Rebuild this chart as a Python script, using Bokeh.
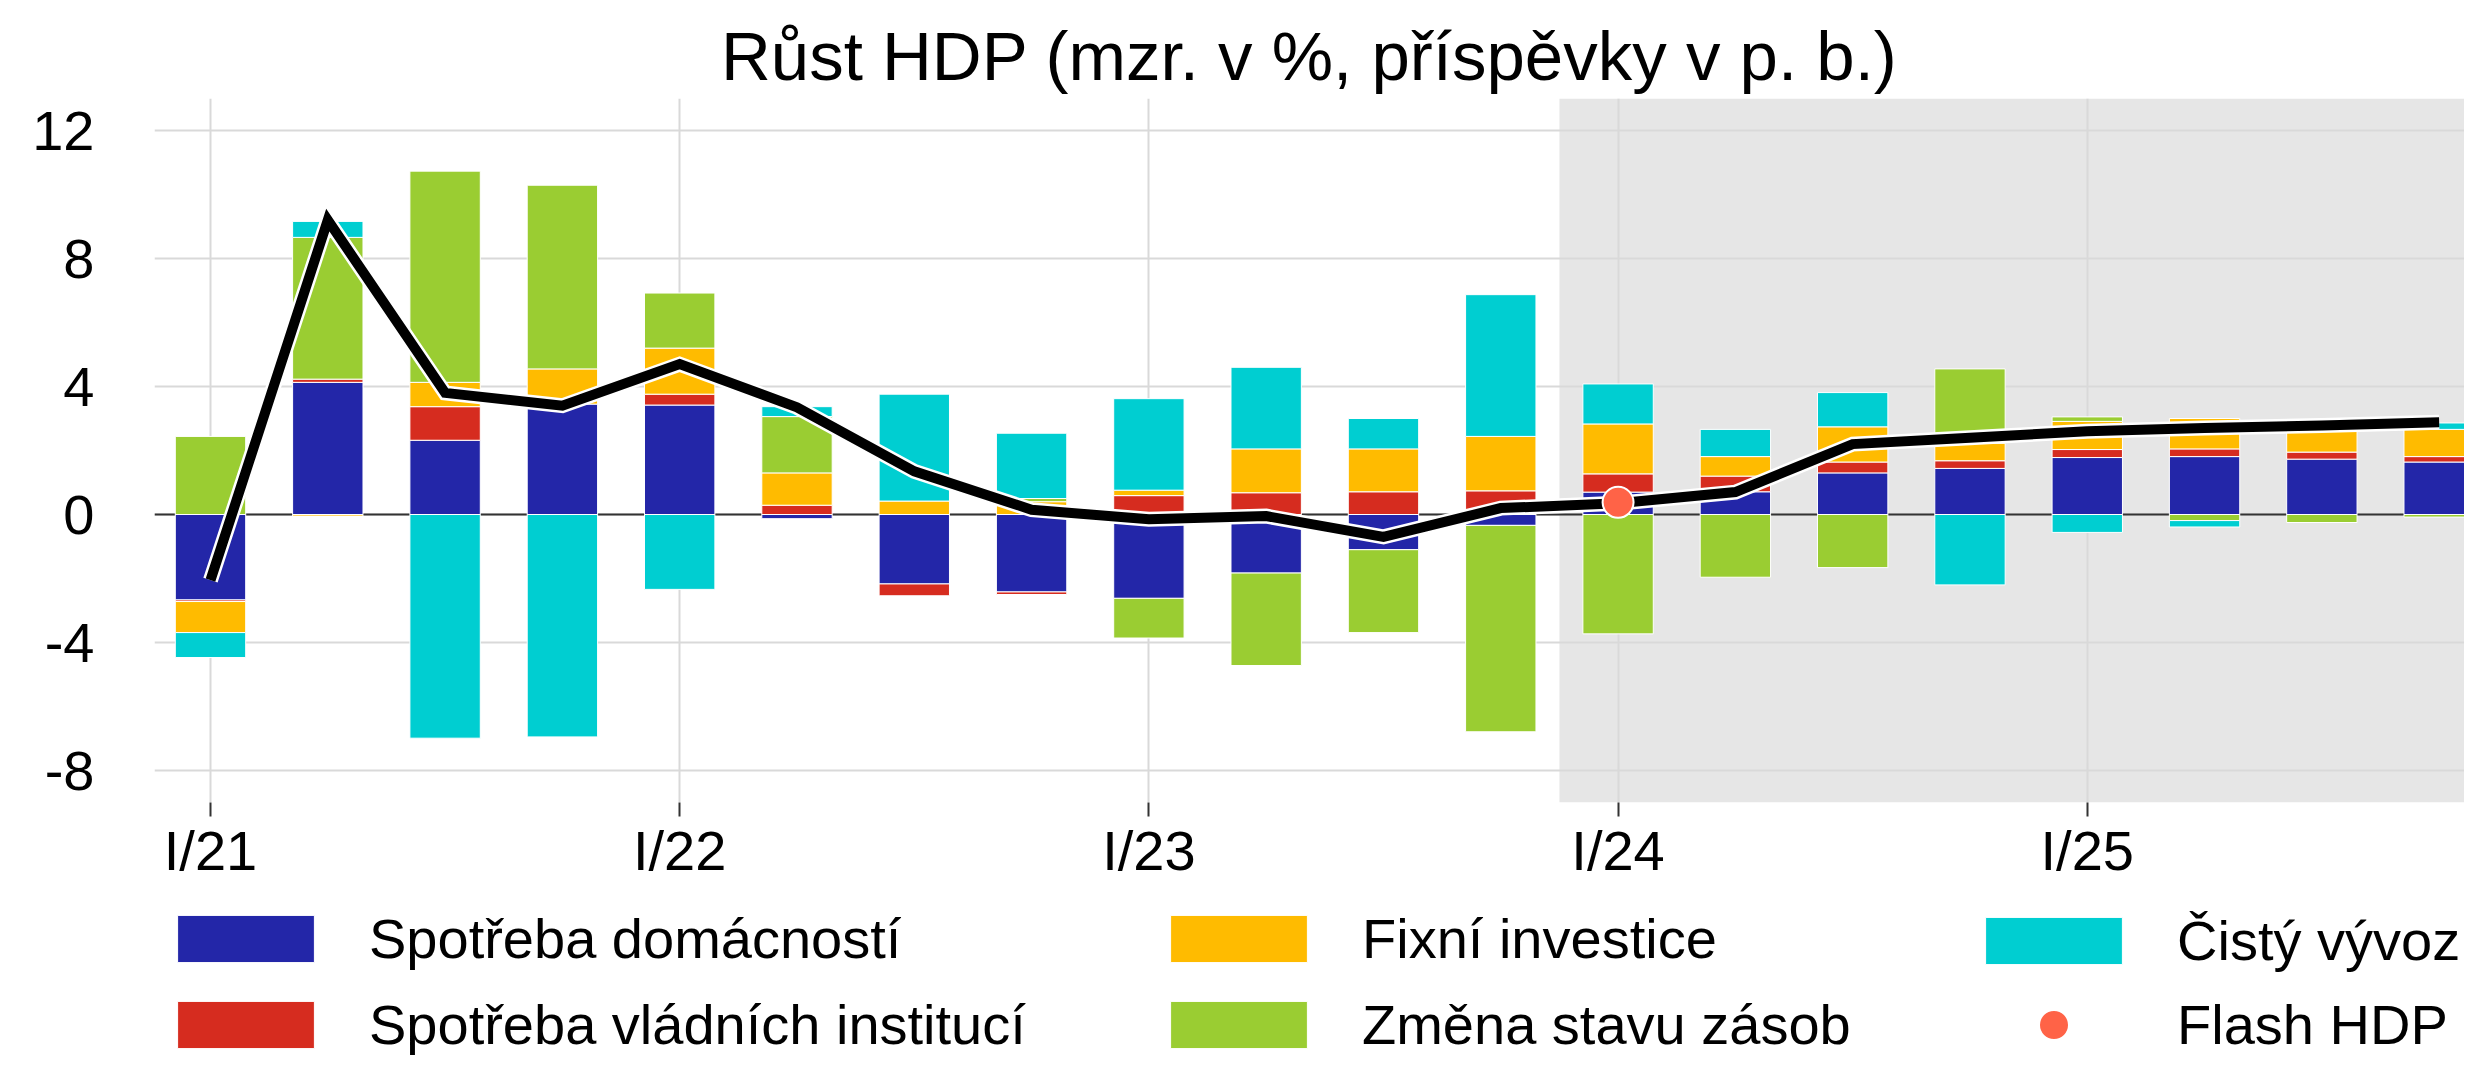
import numpy as np
from bokeh.plotting import figure
from bokeh.layouts import column
from bokeh.models import (ColumnDataSource, Legend, LegendItem, FixedTicker, Span,
                          BoxAnnotation, CDSView, BooleanFilter, Range1d)
from bokeh.embed import file_html
from bokeh.resources import INLINE

# ---------------- data ----------------
quarters = ["I/21", "II/21", "III/21", "IV/21", "I/22", "II/22", "III/22", "IV/22",
            "I/23", "II/23", "III/23", "IV/23", "I/24", "II/24", "III/24", "IV/24",
            "I/25", "II/25", "III/25", "IV/25"]

households = [-2.67, 4.13, 2.32, 3.45, 3.42, -0.13, -2.17, -2.42, -2.62, -1.83,
              -1.10, -0.34, 0.70, 0.71, 1.30, 1.44, 1.78, 1.81, 1.73, 1.64]
government = [-0.05, 0.10, 1.05, 0.00, 0.34, 0.29, -0.37, -0.08, 0.59, 0.68,
              0.71, 0.74, 0.57, 0.49, 0.34, 0.24, 0.25, 0.24, 0.22, 0.17]
investment = [-0.97, -0.05, 0.76, 1.10, 1.44, 1.01, 0.42, 0.40, 0.17, 1.37,
              1.34, 1.70, 1.56, 0.61, 1.10, 0.55, 0.88, 0.95, 0.70, 0.85]
inventories = [2.44, 4.43, 6.60, 5.74, 1.72, 1.76, 0.00, 0.10, -1.24, -2.89,
               -2.59, -6.45, -3.73, -1.96, -1.66, 2.32, 0.14, -0.19, -0.25, -0.08]
net_exports = [-0.78, 0.50, -6.99, -6.95, -2.34, 0.31, 3.34, 2.04, 2.86, 2.55,
               0.95, 4.43, 1.25, 0.85, 1.07, -2.20, -0.56, -0.20, 0.00, 0.20]
gdp = [-2.05, 9.20, 3.80, 3.40, 4.70, 3.35, 1.35, 0.15, -0.15, -0.05,
       -0.70, 0.20, 0.35, 0.70, 2.20, 2.40, 2.60, 2.70, 2.78, 2.88]

flash_quarter = ["I/24"]
flash_gdp = [0.38]
forecast_from = "I/24"

series_names = ["Spotřeba domácností", "Spotřeba vládních institucí", "Fixní investice",
                "Změna stavu zásob", "Čistý vývoz"]
series_values = [households, government, investment, inventories, net_exports]
colors = ["#2326A8", "#D62C1F", "#FFBB00", "#9ACD32", "#00CED1"]
flash_name = "Flash HDP"
flash_color = "#FF6347"

y_ticks = [-8, -4, 0, 4, 8, 12]
y_tick_labels = ["-8", "-4", "0", "4", "8", "12"]
title = "Růst HDP (mzr. v %, příspěvky v p. b.)"

FONT = "Liberation Sans"

# ---------------- main figure ----------------
W = 2464
H_MAIN = 884
H_LEG = 171

p = figure(width=W, height=H_MAIN, output_backend="svg", toolbar_location=None,
           x_range=Range1d(-0.4774, 19.216), y_range=Range1d(-9, 13),
           min_border_left=154, min_border_right=0, min_border_top=98,
           min_border_bottom=82)
p.outline_line_color = None
p.background_fill_color = "white"

p.title.text = title
p.title.align = "center"
p.title.text_font = FONT
p.title.text_font_size = "69px"
p.title.text_font_style = "normal"
p.title.text_color = "black"
p.title.standoff = 8

x = np.arange(len(quarters))

# forecast shading
p.add_layout(BoxAnnotation(left=quarters.index(forecast_from) - 0.5, fill_color="#E6E6E6",
                           fill_alpha=1.0, line_color=None, level="image"))

# grids
for g in (p.xgrid, p.ygrid):
    g.grid_line_color = "#D9D9D9"
    g.grid_line_width = 2

# axes
xticks = [i for i, q in enumerate(quarters) if q.startswith("I/")]
p.xaxis.ticker = FixedTicker(ticks=xticks, minor_ticks=[])
p.xaxis.major_label_overrides = {i: quarters[i] for i in xticks}
p.xaxis.axis_line_color = None
p.xaxis.major_tick_line_color = "#333333"
p.xaxis.major_tick_line_width = 2
p.xaxis.major_tick_out = 14
p.xaxis.major_tick_in = 0
p.xaxis.minor_tick_line_color = None
p.xaxis.major_label_standoff = 2

p.yaxis.ticker = FixedTicker(ticks=y_ticks, minor_ticks=[])
p.yaxis.major_label_overrides = dict(zip(y_ticks, y_tick_labels))
p.yaxis.axis_line_color = None
p.yaxis.major_tick_line_color = None
p.yaxis.major_tick_out = 0
p.yaxis.major_tick_in = 0
p.yaxis.minor_tick_line_color = None
p.yaxis.major_label_standoff = 60

for ax in (p.xaxis, p.yaxis):
    ax.major_label_text_font = FONT
    ax.major_label_text_font_size = "56px"
    ax.major_label_text_color = "black"

# zero line
p.add_layout(Span(location=0, dimension="width", line_color="#333333", line_width=2,
                  level="underlay"))

# stacked bars (positives and negatives stacked separately)
pos_base = np.zeros(len(quarters))
neg_base = np.zeros(len(quarters))
for name, vals, col in zip(series_names, series_values, colors):
    v = np.array(vals, dtype=float)
    bottom = np.where(v >= 0, pos_base, neg_base + v)
    top = np.where(v >= 0, pos_base + v, neg_base)
    pos_base = pos_base + np.where(v > 0, v, 0)
    neg_base = neg_base + np.where(v < 0, v, 0)
    src = ColumnDataSource(dict(x=x, top=top, bottom=bottom))
    view = CDSView(filter=BooleanFilter([bool(b) for b in (v != 0)]))
    p.vbar(x="x", top="top", bottom="bottom", width=0.6, source=src, view=view,
           fill_color=col, line_color="white", line_width=1)

# GDP line
p.line(x, gdp, line_color="white", line_width=15, line_join="miter")
p.line(x, gdp, line_color="black", line_width=10, line_join="miter")

# flash estimate
p.scatter([quarters.index(q) for q in flash_quarter], flash_gdp, size=31,
          fill_color=flash_color, line_color="white", line_width=2)

# ---------------- legend strip ----------------
leg = figure(width=W, height=H_LEG, output_backend="svg", toolbar_location=None,
             x_axis_type=None, y_axis_type=None, x_range=Range1d(0, 1), y_range=Range1d(0, 1),
             min_border_left=0, min_border_right=0, min_border_top=0, min_border_bottom=0)
leg.outline_line_color = None
leg.background_fill_color = "white"

# legend-only glyphs (a single NaN row, so nothing is drawn in the strip itself)
nan = np.array([np.nan])
swatches = [leg.vbar(x=nan, top=nan, width=0.6, fill_color=c, line_color="white",
                     line_width=1) for c in colors]
flash_sw = leg.scatter(x=nan, y=nan, size=31, fill_color=flash_color, line_color="white",
                       line_width=2)


def make_legend(items, loc, gh, lh, spacing=21):
    return Legend(items=items, location=loc, orientation="vertical",
                  glyph_width=171, glyph_height=gh, label_standoff=38, spacing=spacing,
                  padding=0, margin=0, label_text_font=FONT, label_text_font_size="56px",
                  label_text_color="black", border_line_color=None,
                  background_fill_alpha=0, label_height=lh)


# legend frame is aligned with the main frame (starts 154 px from the left)
items = [LegendItem(label=n, renderers=[r]) for n, r in zip(series_names, swatches)]
leg.add_layout(make_legend(items[0:2], (6, -2), 59, 63), "center")
leg.add_layout(make_legend(items[2:4], (999, -2), 59, 63), "center")
leg.add_layout(make_legend([items[4]], (1814, 82), 59, 63), "center")
leg.add_layout(make_legend([LegendItem(label=flash_name, renderers=[flash_sw])],
                           (1814, -7), 75, 75), "center")

layout = column(p, leg, spacing=0)
open("out.html", "w").write(file_html(layout, INLINE))
